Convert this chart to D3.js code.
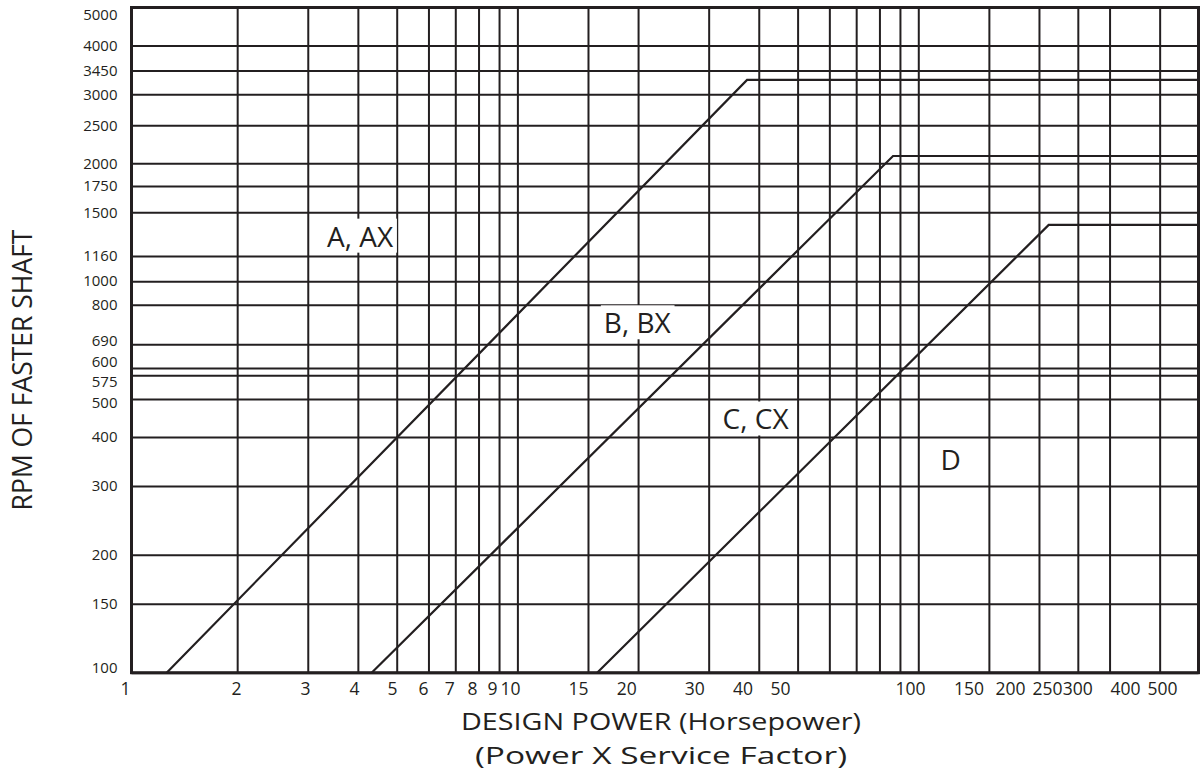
<!DOCTYPE html>
<html><head><meta charset="utf-8">
<script src="https://cdn.jsdelivr.net/npm/d3@7"></script>
<style>
body{margin:0;background:#fff}
svg{display:block}
text{font-family:"Open Sans","Noto Sans",sans-serif;fill:#231f20}
</style>
</head><body>
<svg id="c" width="1201" height="773"></svg>
<script>
// ---- data ----
const xGridValues = [2,3,4,5,6,7,8,9,10,15,20,30,40,50,60,70,80,90,100,150,200,250,300,400];
const xTickLabels = [1,2,3,4,5,6,7,8,9,10,15,20,30,40,50,100,150,200,250,300,400,500];
const yTickValues = [100,150,200,300,400,500,575,600,690,870,1000,1160,1500,1750,2000,2500,3000,3450,4000,5000];
const yTickLabels = ["100","150","200","300","400","500","575","600","690","800","1000","1160","1500","1750","2000","2500","3000","3450","4000","5000"];
const beltA = [[1.334,100],[37.4,3265],[500,3265]];
const beltB = [[4.33,100],[86.5,2088],[500,2088]];
const beltC = [[15.81,100],[211.5,1392],[500,1392]];
const regionNames = ["A, AX","B, BX","C, CX","D"];
const regionPower = [3.35,16.43,32.5,113.6];
const regionRpm = [1225,736,418,330];
const xDomain = [1.09,500];
const yDomain = [100,5000];

// ---- layout ----
const svg = d3.select("#c");
const L = 131.5, R = 1198.5, T = 7.5, B = 672.7;
const ink = "#231f20";
const x = d3.scaleLog().domain(xDomain).range([L,R]);
const y = d3.scaleLog().domain(yDomain).range([B,T]);
// tick labels in the reference drift left of their grid lines
const xLabelPos = d3.scaleLog().domain([1,2,10,50,100,200,500]).range([125,236,510,780,910,1010,1162]);

// vertical grid
const gx = svg.append("g").attr("transform",`translate(0,${B})`)
  .call(d3.axisBottom(x).tickValues(xGridValues).tickSize(-(B-T)).tickFormat(""));
gx.select(".domain").remove();
gx.selectAll("line").attr("stroke",ink).attr("stroke-width",2);

// horizontal grid + y labels
const gy = svg.append("g").attr("transform",`translate(${L},0)`)
  .call(d3.axisLeft(y).tickValues(yTickValues).tickSize(-(R-L)).tickPadding(14)
    .tickFormat((d,i)=>yTickLabels[i]));
gy.select(".domain").remove();
gy.selectAll("line").attr("stroke",ink).attr("stroke-width",2);
// label positions: clamp and de-overlap
const pos = yTickValues.map(v=>y(v));
const lp = pos.map(p=>Math.max(15,Math.min(668,p)));
const minGap = 20.6;
for(let k=0;k<30;k++){
  for(let i=0;i<lp.length-1;i++){
    const gap = lp[i]-lp[i+1];
    if(gap<minGap){const d=(minGap-gap)/2; lp[i]+=d; lp[i+1]-=d;}
  }
}
gy.selectAll("text").attr("font-size",15).attr("fill",ink)
  .attr("font-family",'"Open Sans","Noto Sans",sans-serif')
  .attr("y",(d,i)=>lp[i]-pos[i]);

// x labels
const gl = svg.append("g").attr("transform",`translate(0,${B})`)
  .call(d3.axisBottom(xLabelPos).tickValues(xTickLabels).tickSize(0).tickPadding(10).tickFormat(d3.format("d")));
gl.select(".domain").remove();
gl.selectAll("text").attr("font-size",17.5).attr("fill",ink)
  .attr("font-family",'"Open Sans","Noto Sans",sans-serif');

// region labels with white backing
const rg = svg.append("g");
regionNames.forEach((nm,i)=>{
  const g = rg.append("g");
  const t = g.append("text").attr("x",x(regionPower[i])).attr("y",y(regionRpm[i]))
    .attr("font-size",28).text(nm);
  const bb = t.node().getBBox();
  g.insert("rect","text").attr("x",bb.x-3).attr("y",bb.y+2).attr("width",bb.width+6).attr("height",bb.height-4)
    .attr("fill","#fff");
});

// border
svg.append("rect").attr("x",L).attr("y",T).attr("width",R-L).attr("height",B-T)
  .attr("fill","none").attr("stroke",ink).attr("stroke-width",3);

// belt section boundaries
const line = d3.line().x(d=>x(d[0])).y(d=>y(d[1]));
svg.append("g").selectAll("path").data([beltA,beltB,beltC]).join("path")
  .attr("d",line).attr("fill","none").attr("stroke",ink).attr("stroke-width",2.2)
  .attr("stroke-linejoin","miter");

// axis titles
svg.append("text").attr("x",661).attr("y",730).attr("text-anchor","middle").attr("font-size",24.5)
  .attr("textLength",400).attr("lengthAdjust","spacingAndGlyphs")
  .text("DESIGN POWER (Horsepower)");
svg.append("text").attr("x",661).attr("y",764).attr("text-anchor","middle").attr("font-size",24.5)
  .attr("textLength",372).attr("lengthAdjust","spacingAndGlyphs")
  .text("(Power X Service Factor)");
svg.append("text").attr("transform","translate(22,370) rotate(-90)").attr("text-anchor","middle")
  .attr("dominant-baseline","central").attr("font-size",26.5).text("RPM OF FASTER SHAFT");
</script>
</body></html>
